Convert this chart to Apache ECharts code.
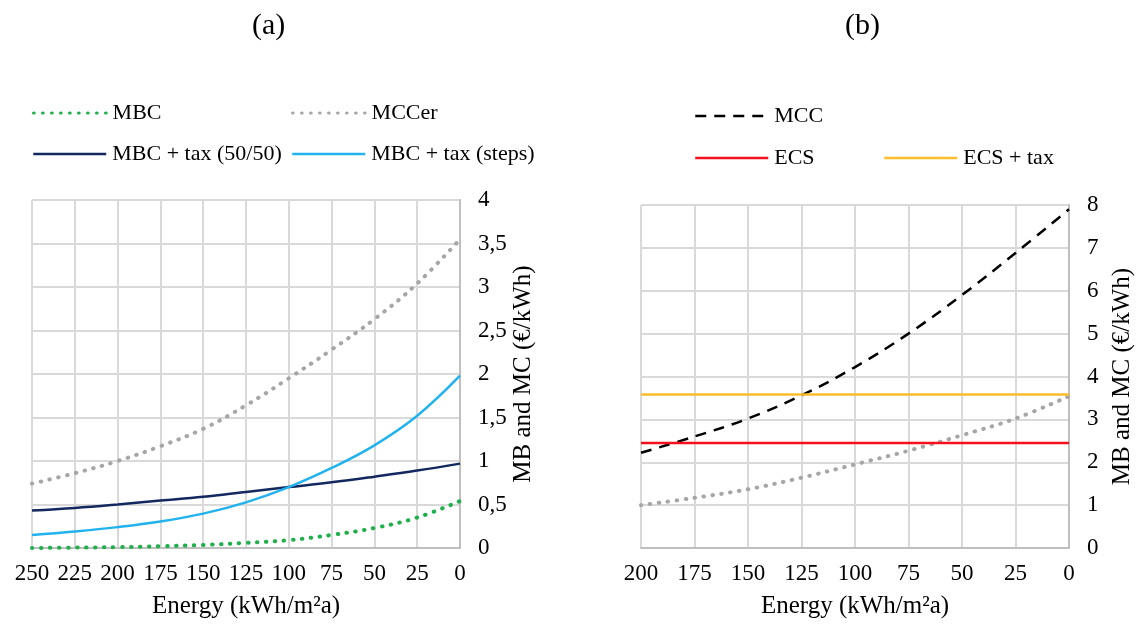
<!DOCTYPE html>
<html><head><meta charset="utf-8">
<script src="https://cdn.jsdelivr.net/npm/echarts@6/dist/echarts.min.js"></script>
<style>html,body{margin:0;padding:0;background:#fff}#c{width:1138px;height:624px}</style>
</head><body><div id="c"></div>
<script>
// ---- data ----
const energyA = [250, 225, 200, 175, 150, 125, 100, 75, 50, 25, 0];
const mbcA      = [0.0, 0.005, 0.01, 0.02, 0.035, 0.06, 0.09, 0.15, 0.23, 0.35, 0.54];
const mccerA    = [0.74, 0.86, 1.0, 1.17, 1.37, 1.64, 1.95, 2.28, 2.63, 3.04, 3.55];
const taxHalfA  = [0.43, 0.46, 0.5, 0.545, 0.59, 0.645, 0.70, 0.755, 0.82, 0.89, 0.97];
const taxStepA  = [0.15, 0.19, 0.24, 0.305, 0.395, 0.525, 0.70, 0.92, 1.18, 1.52, 1.98];

const energyB = [200, 175, 150, 125, 100, 75, 50, 25, 0];
const mccB    = [2.22, 2.6, 3.02, 3.56, 4.22, 5.0, 5.9, 6.88, 7.9];
const mccerB  = [1.0, 1.17, 1.37, 1.64, 1.95, 2.27, 2.63, 3.02, 3.54];
const ecsEnergy = [200, 0];
const ecsB    = [2.45, 2.45];
const ecsTaxB = [3.58, 3.58];

const ticksA = { min: 0, max: 4, interval: 0.5 };
const ticksB = { min: 0, max: 8, interval: 1 };

// ---- chart ----
const FONT = "'Liberation Serif','Times New Roman',serif";
const pairs = (xs, ys) => xs.map((x, i) => [x, ys[i]]);
const GRID = '#d9d9d9', AXIS = '#bfbfbf';

function xAxis(gi, max) {
  return {
    type: 'value', gridIndex: gi, min: 0, max: max, interval: 25, inverse: true,
    name: 'Energy (kWh/m²a)', nameLocation: 'middle', nameGap: 46,
    nameTextStyle: { fontFamily: FONT, fontSize: 25, color: '#000' },
    axisLine: { show: true, lineStyle: { color: AXIS, width: 2 } },
    axisTick: { show: false },
    axisLabel: { fontFamily: FONT, fontSize: 23, color: '#000', margin: 14 },
    splitLine: { show: true, lineStyle: { color: GRID, width: 2 } }
  };
}
function yAxis(gi, t) {
  return {
    type: 'value', gridIndex: gi, position: 'right', min: t.min, max: t.max, interval: t.interval,
    name: 'MB and MC (€/kWh)', nameLocation: 'middle', nameRotate: 90, nameGap: 41,
    nameTextStyle: { fontFamily: FONT, fontSize: 25, color: '#000' },
    axisLine: { show: true, lineStyle: { color: AXIS, width: 2 } },
    axisTick: { show: false },
    axisLabel: { fontFamily: FONT, fontSize: 23, color: '#000', margin: 18, align: 'left',
      formatter: v => String(v).replace('.', ',') },
    splitLine: { show: true, lineStyle: { color: GRID, width: 2 } }
  };
}
const dotted = (c) => ({ color: c, width: 4, type: [0.5, 8.5], cap: 'round' });
const solid = (c) => ({ color: c, width: 2.5 });

function line(name, xi, data, ls, smooth) {
  return { type: 'line', name: name, xAxisIndex: xi, yAxisIndex: xi, data: data,
    smooth: smooth, showSymbol: false, symbol: 'none', lineStyle: ls, itemStyle: { color: ls.color },
    silent: true };
}
function leg(name, left, top, lw) {
  return { data: [name], left: left, top: top, padding: 0, itemWidth: 73, itemHeight: 14,
    selectedMode: false,
    itemStyle: { opacity: 0 },
    lineStyle: { width: lw },
    textStyle: { fontFamily: FONT, fontSize: 22, color: '#000', padding: [0, 0, 0, 1] } };
}

const chart = echarts.init(document.getElementById('c'), null, { renderer: 'canvas' });
chart.setOption({
  animation: false,
  backgroundColor: '#fff',
  graphic: [
    { type: 'text', left: 252, top: 11, style: { text: '(a)', font: "30px 'Liberation Serif', serif", fill: '#000' } },
    { type: 'text', left: 845, top: 11, style: { text: '(b)', font: "30px 'Liberation Serif', serif", fill: '#000' } }
  ],
  legend: [
    leg('MBC', 32, 102, 3.2), leg('MCCer', 291, 102, 3.2),
    leg('MBC + tax (50/50)', 32, 143, 2.5), leg('MBC + tax (steps)', 291, 143, 2.5),
    leg('MCC', 694, 105, 2.5), leg('ECS', 694, 147, 2.5), leg('ECS + tax', 883, 147, 2.5)
  ],
  grid: [
    { left: 32, right: 678, top: 200, bottom: 74 },
    { left: 641, right: 69, top: 205, bottom: 74 }
  ],
  xAxis: [xAxis(0, 250), xAxis(1, 200)],
  yAxis: [yAxis(0, ticksA), yAxis(1, ticksB)],
  series: [
    line('MBC', 0, pairs(energyA, mbcA), dotted('#1fb04c'), 0.4),
    line('MCCer', 0, pairs(energyA, mccerA), dotted('#a6a6a6'), 0.4),
    line('MBC + tax (50/50)', 0, pairs(energyA, taxHalfA), solid('#13285e'), 0.4),
    line('MBC + tax (steps)', 0, pairs(energyA, taxStepA), solid('#22b3ee'), 0.4),
    line('MCC', 1, pairs(energyB, mccB), { color: '#000', width: 2.5, type: [11, 8] }, 0.4),
    line('MCCer', 1, pairs(energyB, mccerB), dotted('#a6a6a6'), 0.4),
    line('ECS', 1, pairs(ecsEnergy, ecsB), solid('#f5101e'), false),
    line('ECS + tax', 1, pairs(ecsEnergy, ecsTaxB), solid('#fdbd2c'), false)
  ]
});
</script></body></html>
